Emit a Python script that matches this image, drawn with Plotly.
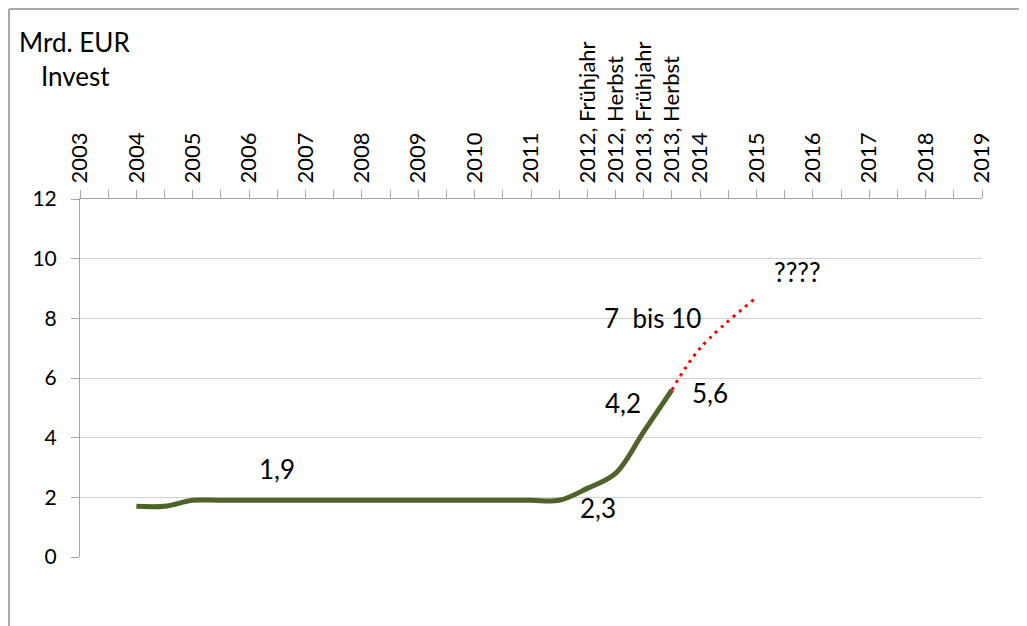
import plotly.graph_objects as go

# invest in Mrd. EUR, half-year steps
invest_x = [2004, 2004.5, 2005, 2005.5, 2006, 2006.5, 2007, 2007.5, 2008, 2008.5,
            2009, 2009.5, 2010, 2010.5, 2011, 2011.5, 2012, 2012.5, 2013, 2013.5]
invest_y = [1.7, 1.7, 1.9, 1.9, 1.9, 1.9, 1.9, 1.9, 1.9, 1.9,
            1.9, 1.9, 1.9, 1.9, 1.9, 1.9, 2.3, 2.8, 4.2, 5.6]

# outlook (dotted)
prog_x = [2013.5, 2014, 2015]
prog_y = [5.6, 7.0, 8.7]

tick_vals = [2003, 2003.5, 2004, 2004.5, 2005, 2005.5, 2006, 2006.5, 2007, 2007.5,
             2008, 2008.5, 2009, 2009.5, 2010, 2010.5, 2011, 2011.5, 2012, 2012.5,
             2013, 2013.5, 2014, 2014.5, 2015, 2015.5, 2016, 2016.5, 2017, 2017.5,
             2018, 2018.5, 2019]
tick_text = ["2003", "", "2004", "", "2005", "", "2006", "", "2007", "",
             "2008", "", "2009", "", "2010", "", "2011", "", "2012, Frühjahr", "2012, Herbst",
             "2013, Frühjahr", "2013, Herbst", "2014", "", "2015", "", "2016", "", "2017", "",
             "2018", "", "2019"]

labels = ["1,9", "2,3", "4,2", "5,6", "7  bis 10", "????"]
label_x = [2006.5, 2012.18, 2012.63, 2014.17, 2013.16, 2015.73]
label_y = [2.95, 1.64, 5.17, 5.5, 8.02, 9.56]

# page body has an 8px margin, so the figure is 8px smaller than the window
OFF = 8
W, H = 1027 - OFF, 626 - OFF
L, R, T, B = 80 - OFF, 45, 199 - OFF, 69
FONT = "Lato"


def px_x(p):
    return (p - OFF - L) / (W - L - R)


def px_y(p):
    return (H - B - (p - OFF)) / (H - T - B)


fig = go.Figure()
fig.add_trace(go.Scatter(x=invest_x, y=invest_y, mode="lines",
                         line=dict(color="#4F6228", width=5, shape="spline"),
                         showlegend=False))
fig.add_trace(go.Scatter(x=prog_x, y=prog_y, mode="lines",
                         line=dict(color="#FF0000", width=3, shape="spline", dash="3px,5px"),
                         showlegend=False))

for t, x, y in zip(labels, label_x, label_y):
    fig.add_annotation(x=x, y=y, text=t, showarrow=False,
                       font=dict(family=FONT, size=26, color="black"))

fig.add_annotation(x=px_x(17), y=px_y(42), xref="paper", yref="paper", text="Mrd. EUR",
                   showarrow=False, xanchor="left", yanchor="middle",
                   font=dict(family=FONT, size=26, color="black"))
fig.add_annotation(x=px_x(39), y=px_y(76), xref="paper", yref="paper", text="Invest",
                   showarrow=False, xanchor="left", yanchor="middle",
                   font=dict(family=FONT, size=26, color="black"))

# outer chart border (left and top edges)
fig.add_shape(type="line", xref="paper", yref="paper", x0=px_x(9), x1=px_x(9),
              y0=px_y(9), y1=px_y(626), line=dict(color="#8C8C8C", width=1.5))
fig.add_shape(type="line", xref="paper", yref="paper", x0=px_x(9), x1=px_x(1027),
              y0=px_y(9), y1=px_y(9), line=dict(color="#8C8C8C", width=1.5))

fig.update_xaxes(range=[2003, 2019], side="top", tickvals=tick_vals, ticktext=tick_text,
                 tickangle=-90, ticks="outside", ticklen=8, tickcolor="#A6A6A6",
                 showline=True, linecolor="#A6A6A6", showgrid=False, zeroline=False,
                 ticklabelstandoff=2,
                 tickfont=dict(family=FONT, size=22, color="black"))
fig.update_yaxes(range=[0, 12], tickvals=[0, 2, 4, 6, 8, 10, 12], ticks="outside",
                 ticklen=8, tickcolor="#A6A6A6", showline=True, linecolor="#A6A6A6",
                 showgrid=True, gridcolor="#D0D0D0", gridwidth=1, zeroline=False,
                 ticklabelstandoff=10,
                 tickfont=dict(family=FONT, size=21, color="black"))

fig.update_layout(width=W, height=H, margin=dict(l=L, r=R, t=T, b=B),
                  plot_bgcolor="white", paper_bgcolor="white")

fig.write_html("out.html")
